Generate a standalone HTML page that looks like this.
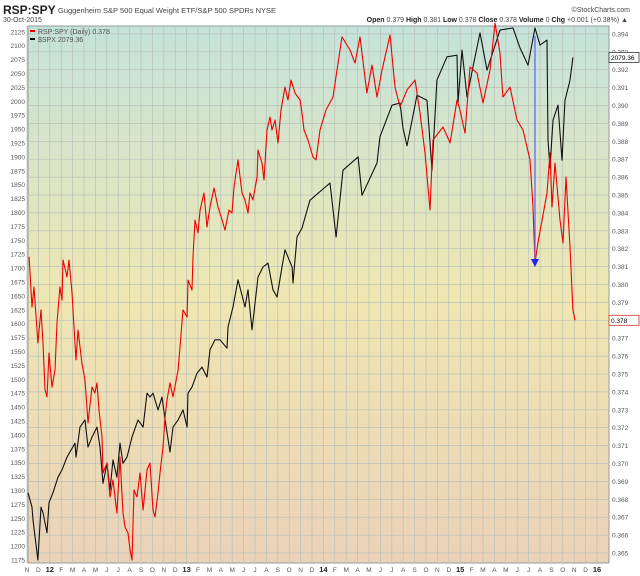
<!DOCTYPE html>
<html><head><meta charset="utf-8"><style>
body{margin:0;background:#fff;font-family:"Liberation Sans",sans-serif;}
svg{display:block}
</style></head><body>
<svg id="chart" width="640" height="576" xmlns="http://www.w3.org/2000/svg" font-family="Liberation Sans, sans-serif">
<defs>
<linearGradient id="bg" x1="0" y1="0" x2="0" y2="1">
<stop offset="0" stop-color="#c4e3db"/>
<stop offset="0.5" stop-color="#efe7b2"/>
<stop offset="1" stop-color="#ebd2b8"/>
</linearGradient>
</defs>
<text x="3" y="14" font-size="12" font-weight="bold" fill="#222">RSP:SPY</text>
<text x="58" y="13" font-size="7.5" fill="#444">Guggenheim S&amp;P 500 Equal Weight ETF/S&amp;P 500 SPDRs  NYSE</text>
<text x="3" y="22" font-size="7" fill="#444">30-Oct-2015</text>
<text x="630" y="12" font-size="7" fill="#444" text-anchor="end">©StockCharts.com</text>
<text x="628" y="22" font-size="7" fill="#444" text-anchor="end"><tspan font-weight="bold" fill="#222">Open</tspan> 0.379  <tspan font-weight="bold" fill="#222">High</tspan> 0.381  <tspan font-weight="bold" fill="#222">Low</tspan> 0.378  <tspan font-weight="bold" fill="#222">Close</tspan> 0.378  <tspan font-weight="bold" fill="#222">Volume</tspan> 0  <tspan font-weight="bold" fill="#222">Chg</tspan> +0.001 (+0.38%) ▲</text>
<rect x="28" y="26" width="581" height="537" fill="url(#bg)" stroke="#999" stroke-width="1"/>
<g id="grid"></g>
<g id="axes"></g>
<g id="series"></g>
<g>
<rect x="30" y="30" width="5" height="2" fill="#e00"/>
<text x="38" y="34" font-size="7" fill="#555">RSP:SPY (Daily) 0.378</text>
<rect x="30" y="38" width="5" height="2" fill="#000"/>
<text x="38" y="42" font-size="7" fill="#555">$SPX 2079.36</text>
</g>
</svg>
<script>
const monthLabels=["N","D","12","F","M","A","M","J","J","A","S","O","N","D","13","F","M","A","M","J","J","A","S","O","N","D","14","F","M","A","M","J","J","A","S","O","N","D","15","F","M","A","M","J","J","A","S","O","N","D","16"];
const leftTicks=[1175,1200,1225,1250,1275,1300,1325,1350,1375,1400,1425,1450,1475,1500,1525,1550,1575,1600,1625,1650,1675,1700,1725,1750,1775,1800,1825,1850,1875,1900,1925,1950,1975,2000,2025,2050,2075,2100,2125];
const rightTicks=[0.365,0.366,0.367,0.368,0.369,0.370,0.371,0.372,0.373,0.374,0.375,0.376,0.377,0.378,0.379,0.380,0.381,0.382,0.383,0.384,0.385,0.386,0.387,0.388,0.389,0.390,0.391,0.392,0.393,0.394];
// dates in months since 1-Nov-2011
const spxDates=[0.09,0.44,0.53,0.96,1.23,1.40,1.75,1.93,2.28,2.72,3.07,3.51,4.21,4.30,4.65,5.09,5.35,5.70,6.14,6.40,6.67,7.02,7.28,7.54,7.89,8.16,8.42,8.77,9.21,9.74,10.18,10.53,10.79,11.05,11.49,11.84,12.11,12.54,12.81,13.25,13.68,14.04,14.12,14.47,14.91,15.35,15.79,16.05,16.49,16.93,17.54,17.63,18.07,18.51,19.12,19.39,19.74,20.26,20.70,21.14,21.58,21.93,22.37,22.63,23.25,23.33,23.68,24.12,24.82,26.58,27.11,27.72,29.04,29.39,30.70,30.96,32.02,32.72,32.98,33.33,34.21,35.09,35.53,35.96,36.84,37.72,37.81,38.16,38.60,39.12,39.74,40.35,41.49,42.63,43.25,43.95,44.56,45.00,45.61,45.70,45.88,46.14,46.58,46.93,47.19,47.63,47.89];
const spxValues=[1296,1270,1247,1175,1270,1260,1224,1278,1296,1324,1337,1360,1385,1360,1414,1427,1378,1396,1414,1378,1313,1349,1301,1355,1324,1385,1349,1360,1396,1427,1414,1475,1468,1475,1445,1468,1427,1369,1414,1427,1445,1414,1475,1486,1511,1522,1504,1553,1571,1571,1556,1594,1630,1679,1630,1661,1589,1684,1702,1709,1661,1648,1702,1733,1702,1673,1756,1772,1822,1853,1756,1876,1900,1831,1889,1936,1993,1997,1952,1920,2011,2002,1876,2038,2080,2083,1997,2092,2008,2062,2123,2056,2128,2132,2096,2065,2132,2101,2110,1930,1880,1966,1993,1894,2002,2038,2079];
const rspDates=[0.18,0.44,0.61,0.96,1.23,1.40,1.58,1.75,1.93,2.19,2.46,2.63,2.89,3.07,3.16,3.51,3.68,3.95,4.12,4.30,4.47,4.82,5.09,5.35,5.70,5.96,6.14,6.32,6.58,6.67,7.02,7.28,7.54,7.89,8.16,8.42,8.60,8.86,9.04,9.21,9.39,9.65,9.91,10.18,10.53,10.79,11.05,11.23,11.49,11.67,11.93,12.11,12.28,12.54,12.81,13.25,13.42,13.68,14.04,14.12,14.47,14.56,14.74,15.00,15.18,15.53,15.79,16.05,16.40,16.75,17.11,17.37,17.72,17.98,18.16,18.51,18.86,19.12,19.39,19.56,19.82,20.18,20.26,20.61,20.79,21.05,21.32,21.49,21.75,22.02,22.28,22.63,22.89,23.16,23.51,23.95,24.12,24.30,24.65,25.09,25.35,25.70,26.23,26.84,27.19,27.63,28.33,28.77,29.21,29.82,30.26,30.70,31.14,31.84,32.28,32.72,33.33,34.04,34.47,34.91,35.35,35.61,36.49,37.11,37.72,37.98,38.42,38.86,39.47,40.00,40.61,41.05,41.49,41.75,42.37,42.98,43.51,44.12,44.39,44.56,44.82,45.61,45.88,46.05,46.32,46.75,47.02,47.28,47.63,47.89,48.07];
const rspValues=[0.38154,0.37874,0.37986,0.37673,0.37858,0.37673,0.37411,0.37372,0.37617,0.37427,0.37522,0.37785,0.37986,0.37913,0.38137,0.38042,0.38137,0.37953,0.37763,0.37578,0.37746,0.37561,0.37466,0.37226,0.37427,0.37394,0.37450,0.37299,0.37148,0.36947,0.37003,0.36813,0.36908,0.36723,0.37036,0.36723,0.36645,0.36612,0.36517,0.36461,0.36852,0.36813,0.36947,0.36740,0.36964,0.37003,0.36740,0.36701,0.36835,0.36947,0.37092,0.37260,0.37355,0.37450,0.37372,0.37522,0.37651,0.37858,0.37818,0.38025,0.37969,0.38154,0.38360,0.38288,0.38416,0.38511,0.38321,0.38433,0.38539,0.38433,0.38360,0.38304,0.38416,0.38399,0.38545,0.38696,0.38511,0.38472,0.38399,0.38511,0.38472,0.38601,0.38751,0.38679,0.38584,0.38863,0.38936,0.38863,0.38919,0.38791,0.38975,0.39103,0.39031,0.39142,0.39070,0.39031,0.38958,0.38863,0.38807,0.38712,0.38696,0.38863,0.38975,0.39047,0.39198,0.39383,0.39310,0.39237,0.39383,0.39070,0.39226,0.39047,0.39198,0.39394,0.39103,0.38992,0.39087,0.39142,0.38958,0.38735,0.38416,0.38807,0.38880,0.38791,0.39031,0.38975,0.38846,0.39215,0.39182,0.39014,0.39198,0.39461,0.39293,0.39047,0.39103,0.38919,0.38863,0.38696,0.38433,0.38120,0.38232,0.38511,0.38735,0.38433,0.38679,0.38360,0.38232,0.38601,0.38209,0.37858,0.37800];
const NS="http://www.w3.org/2000/svg";
const X0=27,MW=11.4;
const xm=m=>X0+MW*m;
const yL=v=>560-(v-1175)/25*13.9;
const yR=v=>553-(v-0.365)*17900;
function mk(tag,attrs,parent){const e=document.createElementNS(NS,tag);for(const k in attrs)e.setAttribute(k,attrs[k]);parent.appendChild(e);return e;}
const grid=document.getElementById('grid'),axes=document.getElementById('axes'),series=document.getElementById('series');
leftTicks.forEach(v=>{
  const y=yL(v);
  const t=mk('text',{x:25,y:y+2.5,'font-size':6.5,fill:'#555','text-anchor':'end'},axes);
  t.textContent=v;
  
  
});
rightTicks.forEach(v=>{
  const y=yR(v);
  const l=mk('line',{x1:28,x2:609,y1:y,y2:y,stroke:'#b9c0b8','stroke-width':0.7},grid);
  
  
  const t=mk('text',{x:612,y:y+2.5,'font-size':6.5,fill:'#555'},axes);
  t.textContent=v.toFixed(3);
  
  
});
monthLabels.forEach((lab,i)=>{
  const x=xm(i);
  const l=mk('line',{x1:x,x2:x,y1:26,y2:563,stroke:'#b9c0b8','stroke-width':0.7},grid);
  
  
  const bold=/\d/.test(lab);
  const t=mk('text',{x:x,y:572,'font-size':bold?7.5:6.5,'font-weight':bold?'bold':'normal',fill:bold?'#222':'#555','text-anchor':'middle'},axes);
  t.textContent=lab;
  
  
});
function path(dates,arr,yf,color,name){
  const d=arr.map((v,i)=>(i?'L':'M')+xm(dates[i]).toFixed(1)+' '+yf(v).toFixed(1)).join(' ');
  const p=mk('path',{d:d,fill:'none',stroke:color,'stroke-width':1.1,'stroke-linejoin':'round'},series);
  
  
}
path(spxDates,spxValues,yL,'#111','spx-line');
path(rspDates,rspValues,yR,'#e00','rsp-spy-line');
const ax=xm(44.56);
const a=mk('line',{x1:ax,x2:ax,y1:36,y2:262,stroke:'#66f','stroke-width':1.3},series);


const ah=mk('polygon',{points:`${ax-4},259 ${ax+4},259 ${ax},267`,fill:'#22f'},series);


function box(y,txt,name,col){
  const g=mk('g',{},axes);
  
  
  mk('rect',{x:609,y:y-5,width:30,height:10,fill:'#fff',stroke:col,'stroke-width':0.8},g);
  const t=mk('text',{x:611,y:y+2.5,'font-size':6.5,fill:'#000'},g);
  t.textContent=txt;
}
box(yL(spxValues[spxValues.length-1]),'2079.36','spx-last-value','#333');
box(yR(rspValues[rspValues.length-1]),'0.378','rsp-last-value','#c33');
</script>
</body></html>
